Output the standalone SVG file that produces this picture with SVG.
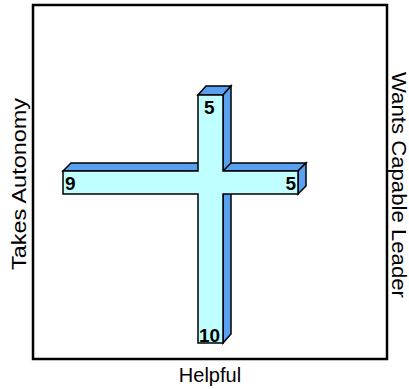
<svg xmlns="http://www.w3.org/2000/svg" width="409" height="389" viewBox="0 0 409 389">
<style>
.side{fill:#5aa0f0;stroke:#000;stroke-width:1.5;stroke-linejoin:miter}
.front{fill:#bfffff;stroke:#000;stroke-width:1.5}
.num{font-family:"Liberation Sans",Arial,sans-serif;font-weight:bold;font-size:19px;fill:#000}
.lab{font-family:"Liberation Sans",Arial,sans-serif;font-size:20px;fill:#000}
</style>
<rect x="33" y="5" width="354" height="354" fill="#fff" stroke="#000" stroke-width="2.5"/>
<g id="cross">
<polygon class="side" points="63,171 71,163 306,163 298,171"/>
<polygon class="side" points="298,171 306,163 306,186 298,194"/>
<polygon class="side" points="198,95 206,86 231,86 223,95"/>
<polygon class="side" points="223,95 231,86 231,163 223,171"/>
<polygon class="side" points="223,194 231,186 231,334 223,343"/>
<polygon class="front" points="198,95 223,95 223,171 298,171 298,194 223,194 223,343 198,343 198,194 63,194 63,171 198,171"/>
</g>
<g id="n-top"><text class="num" x="204" y="114">5</text></g>
<g id="n-left"><text class="num" x="65" y="190">9</text></g>
<g id="n-right"><text class="num" x="296" y="190" text-anchor="end">5</text></g>
<g id="n-bottom"><text class="num" x="199" y="342">10</text></g>
<g id="labels">
<text class="lab" x="210" y="382" text-anchor="middle">Helpful</text>
<text class="lab" transform="translate(26,184) rotate(-90)" text-anchor="middle" textLength="172" lengthAdjust="spacingAndGlyphs">Takes Autonomy</text>
<text class="lab" font-size="19" transform="translate(392,185) rotate(90)" text-anchor="middle" textLength="226" lengthAdjust="spacingAndGlyphs">Wants Capable Leader</text>
</g>
<g id="connectors"/>
</svg>
